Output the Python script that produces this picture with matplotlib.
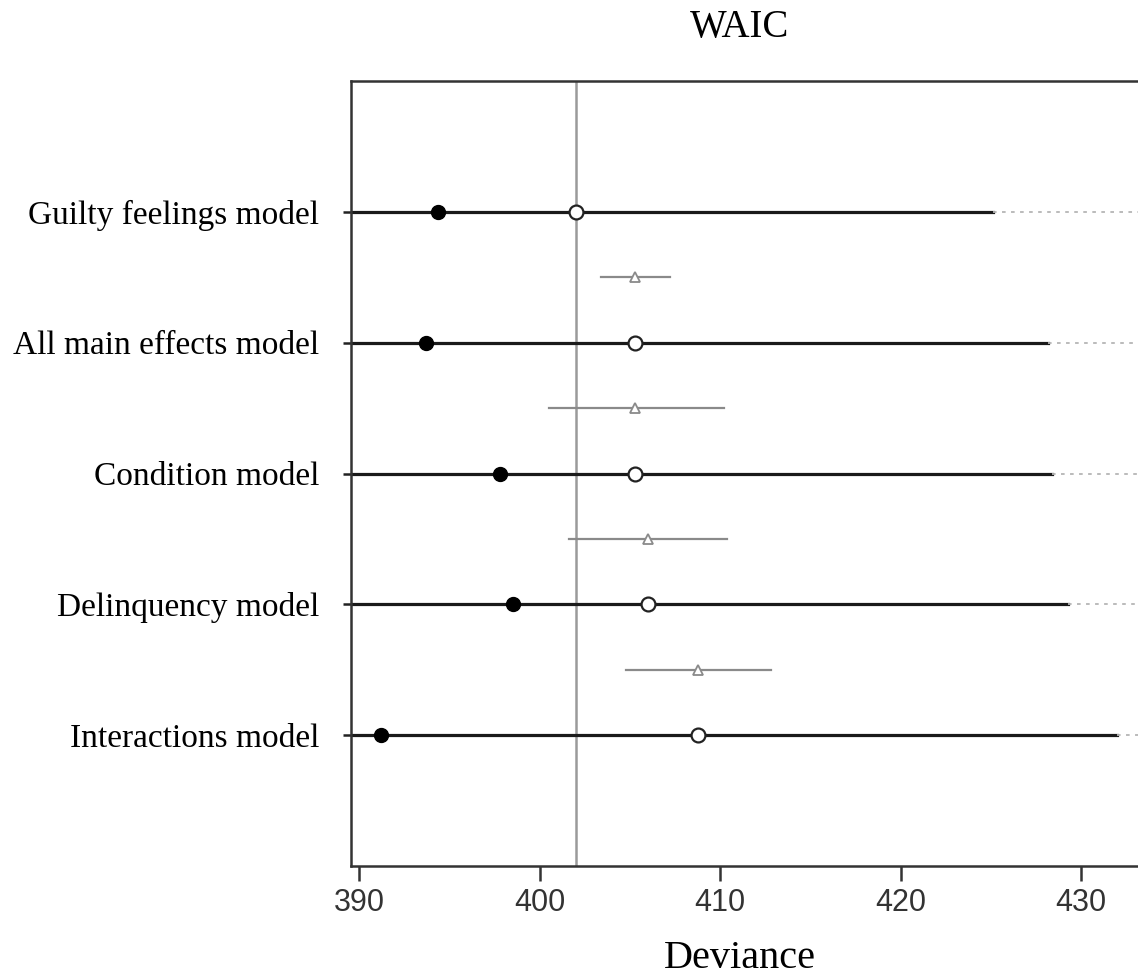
import numpy as np
import matplotlib.pyplot as plt

# modelos (de cima para baixo)
modelos = ['Guilty feelings model', 'All main effects model', 'Condition model',
           'Delinquency model', 'Interactions model']
deviance_amostra = [394.35, 393.7, 397.8, 398.5, 391.2]   # pontos cheios
waic = [402.0, 405.3, 405.3, 406.0, 408.8]                  # circulos abertos
waic_sup = [425.1, 428.2, 428.4, 429.3, 432.0]              # fim da linha solida
# diferencas (triangulos) entre modelos consecutivos
dwaic = [405.3, 405.3, 406.0, 408.8]
dwaic_inf = [403.4, 400.5, 401.6, 404.8]
dwaic_sup = [407.2, 410.2, 410.4, 412.8]
ticks_x = [390, 400, 410, 420, 430]

fig = plt.figure(figsize=(11.38, 9.77), dpi=100)
ax = fig.add_axes([351 / 1138, 1 - 866 / 977, 0.8792, (866 - 81) / 977])

xmin, xmax = 389.54, 445
n = len(modelos)
y_mod = np.arange(n, 0, -1)
y_tri = y_mod[:-1] - 0.5

# linha vertical no melhor WAIC
ax.axvline(min(waic), color='#9a9a9a', lw=1.8, zorder=1)

for i in range(n):
    ax.plot([xmin, waic_sup[i]], [y_mod[i], y_mod[i]], color='#1a1a1a', lw=2.3, zorder=2)
    ax.plot([waic_sup[i], xmax], [y_mod[i], y_mod[i]], color='#b5b5b5', lw=1.3,
            linestyle=(0, (2, 3)), zorder=2)

ax.plot(deviance_amostra, y_mod, 'o', color='black', markersize=10, zorder=4)
ax.plot(waic, y_mod, 'o', markerfacecolor='white', markeredgecolor='#222222',
        markeredgewidth=1.6, markersize=10, zorder=4)

for i in range(n - 1):
    ax.plot([dwaic_inf[i], dwaic_sup[i]], [y_tri[i], y_tri[i]], color='#8a8a8a', lw=1.6, zorder=2)
ax.plot(dwaic, y_tri, '^', markerfacecolor='white', markeredgecolor='#8a8a8a',
        markeredgewidth=1.3, markersize=7, zorder=4)

ax.set_xlim(xmin, xmax)
ax.set_ylim(0, 6)
ax.set_yticks(y_mod)
ax.set_yticklabels(modelos, fontfamily='Liberation Serif', fontsize=24)
ax.set_xticks(ticks_x)
ax.set_xticklabels([str(t) for t in ticks_x], fontfamily='Liberation Sans', fontsize=22,
                   color='#333333')
ax.tick_params(axis='y', length=6, width=1.8, pad=17, color='#222222')
ax.tick_params(axis='x', length=11, width=1.8, pad=5, color='#333333')

ax.spines['right'].set_visible(False)
for lado in ['left', 'bottom', 'top']:
    ax.spines[lado].set_linewidth(1.8)
    ax.spines[lado].set_color('#333333')

fig.text(740 / 1138, 1 - 28 / 977, 'WAIC', ha='center', va='center',
         fontfamily='Liberation Serif', fontsize=28)
fig.text(740 / 1138, 1 - 958 / 977, 'Deviance', ha='center', va='center',
         fontfamily='Liberation Serif', fontsize=29)

plt.savefig('out.png', dpi=100)
